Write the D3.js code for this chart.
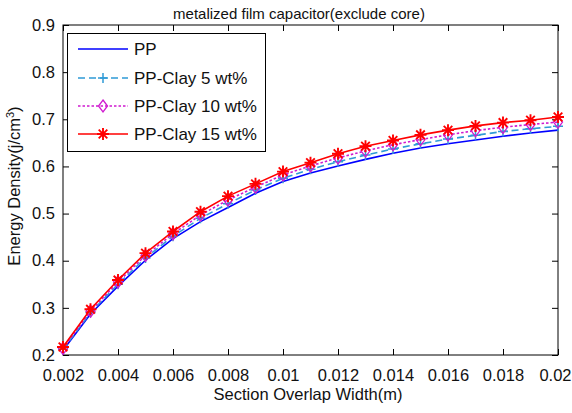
<!DOCTYPE html>
<html><head><meta charset="utf-8">
<script src="https://cdn.jsdelivr.net/npm/d3@7"></script>
<style>
html,body{margin:0;padding:0;background:#fff;}
text{font-family:"Liberation Sans",Arial,sans-serif;fill:#111;}
</style></head>
<body><svg id="c" width="572" height="413"></svg>
<script>
const widths = [0.002,0.003,0.004,0.005,0.006,0.007,0.008,0.009,0.010,0.011,0.012,0.013,0.014,0.015,0.016,0.017,0.018,0.019,0.020];
const pp     = [0.210,0.287,0.346,0.401,0.447,0.483,0.513,0.543,0.568,0.586,0.601,0.615,0.628,0.639,0.648,0.656,0.664,0.671,0.677];
const clay5  = [0.212,0.290,0.350,0.406,0.452,0.490,0.521,0.550,0.575,0.594,0.610,0.624,0.637,0.648,0.658,0.666,0.674,0.680,0.685];
const clay10 = [0.214,0.293,0.355,0.411,0.457,0.497,0.529,0.556,0.582,0.601,0.618,0.633,0.646,0.657,0.667,0.676,0.683,0.689,0.694];
const clay15 = [0.217,0.297,0.359,0.416,0.462,0.504,0.537,0.563,0.589,0.608,0.627,0.643,0.655,0.667,0.677,0.686,0.693,0.698,0.705];
const seriesNames = ["PP","PP-Clay 5 wt%","PP-Clay 10 wt%","PP-Clay 15 wt%"];
const xTicks = [0.002,0.004,0.006,0.008,0.010,0.012,0.014,0.016,0.018,0.020];
const xTickLabels = ["0.002","0.004","0.006","0.008","0.01","0.012","0.014","0.016","0.018","0.02"];
const yTicks = [0.2,0.3,0.4,0.5,0.6,0.7,0.8,0.9];
const yTickLabels = ["0.2","0.3","0.4","0.5","0.6","0.7","0.8","0.9"];

const styles = [
  {color:"#0000ff", dash:null, marker:"none"},
  {color:"#2f9bd6", dash:"7,4", marker:"plus"},
  {color:"#d01ad0", dash:"2.5,2", marker:"diamond"},
  {color:"#ff0000", dash:null, marker:"star"}
];
const seriesVals = [pp, clay5, clay10, clay15];

const svg = d3.select("#c");
const L=63, R=558, T=25, B=355;
const x = d3.scaleLinear().domain([0.002,0.02]).range([L,R]);
const y = d3.scaleLinear().domain([0.2,0.9]).range([B,T]);

const tl = 6;
const fmtX = (d,i)=>xTickLabels[i];
const fmtY = (d,i)=>yTickLabels[i];
const gB = svg.append("g").attr("transform",`translate(0,${B})`)
  .call(d3.axisBottom(x).tickValues(xTicks).tickFormat(fmtX).tickSizeInner(-tl).tickSizeOuter(0).tickPadding(14));
const gT = svg.append("g").attr("transform",`translate(0,${T})`)
  .call(d3.axisTop(x).tickValues(xTicks).tickFormat("").tickSizeInner(-tl).tickSizeOuter(0));
const gL = svg.append("g").attr("transform",`translate(${L},0)`)
  .call(d3.axisLeft(y).tickValues(yTicks).tickFormat(fmtY).tickSizeInner(-tl).tickSizeOuter(0).tickPadding(8));
const gR = svg.append("g").attr("transform",`translate(${R},0)`)
  .call(d3.axisRight(y).tickValues(yTicks).tickFormat("").tickSizeInner(-tl).tickSizeOuter(0));
[gB,gT,gL,gR].forEach(g=>{
  g.selectAll("path.domain").remove();
  g.selectAll("line").attr("stroke","#000").attr("stroke-width",1);
  g.selectAll("text").style("font-size","16.5px").style("font-family","'Liberation Sans',Arial,sans-serif").attr("fill","#111");
});
gB.selectAll("text").attr("dy","0.71em");
// keep the last label inside the page
gB.selectAll(".tick").filter((d,i)=>i===xTicks.length-1).select("text")
  .attr("text-anchor","end").attr("x",571-R);
svg.append("rect").attr("x",L).attr("y",T).attr("width",R-L).attr("height",B-T)
  .attr("fill","none").attr("stroke","#000").attr("stroke-width",1);

svg.append("clipPath").attr("id","clip").append("rect").attr("x",L-8).attr("y",T-8).attr("width",R-L+16).attr("height",B-T+16);

function drawMarker(g, type, cx, cy, color){
  if(type==="plus"){
    g.append("path").attr("d",`M${cx-5},${cy}H${cx+5}M${cx},${cy-5}V${cy+5}`).attr("stroke",color).attr("stroke-width",1.5).attr("fill","none");
  } else if(type==="diamond"){
    g.append("path").attr("d",`M${cx},${cy-6}L${cx+4.5},${cy}L${cx},${cy+6}L${cx-4.5},${cy}Z`).attr("stroke",color).attr("stroke-width",1.3).attr("fill","none");
  } else if(type==="star"){
    const s=6, d=4.3;
    g.append("path").attr("d",`M${cx-s},${cy}H${cx+s}M${cx},${cy-s}V${cy+s}M${cx-d},${cy-d}L${cx+d},${cy+d}M${cx-d},${cy+d}L${cx+d},${cy-d}`)
      .attr("stroke",color).attr("stroke-width",1.9).attr("fill","none");
  }
}

const plot = svg.append("g").attr("clip-path","url(#clip)");
const line = d3.line().x((d,i)=>x(widths[i])).y(d=>y(d));
seriesVals.forEach((vals,k)=>{
  const st = styles[k];
  const p = plot.append("path").datum(vals).attr("d",line)
    .attr("fill","none").attr("stroke",st.color).attr("stroke-width",1.6);
  if(st.dash) p.attr("stroke-dasharray",st.dash);
  const mg = plot.append("g");
  vals.forEach((v,i)=>drawMarker(mg, st.marker, x(widths[i]), y(v), st.color));
});

const lg = svg.append("g");
lg.append("rect").attr("x",67.5).attr("y",33.5).attr("width",198).attr("height",118)
  .attr("fill","#fff").attr("stroke","#000").attr("stroke-width",1);
const rowY = [49,78,106,134];
seriesNames.forEach((n,k)=>{
  const st=styles[k];
  const ln = lg.append("line").attr("x1",78).attr("x2",128).attr("y1",rowY[k]).attr("y2",rowY[k])
    .attr("stroke",st.color).attr("stroke-width",1.6);
  if(st.dash) ln.attr("stroke-dasharray",st.dash);
  drawMarker(lg, st.marker, 103, rowY[k], st.color);
  lg.append("text").attr("x",134).attr("y",rowY[k]).attr("dy","0.36em")
    .style("font-size","17px").text(n);
});

svg.append("text").attr("x",299).attr("y",19).attr("text-anchor","middle")
  .style("font-size","15px").text("metalized film capacitor(exclude core)");
svg.append("text").attr("x",308).attr("y",400).attr("text-anchor","middle")
  .style("font-size","16.5px").text("Section Overlap Width(m)");
const yl = svg.append("text").attr("transform","translate(20,186) rotate(-90)").attr("text-anchor","middle")
  .style("font-size","16.5px");
yl.append("tspan").text("Energy Density(j/cm");
yl.append("tspan").attr("baseline-shift","super").style("font-size","11px").text("3");
yl.append("tspan").text(")");
</script></body></html>
